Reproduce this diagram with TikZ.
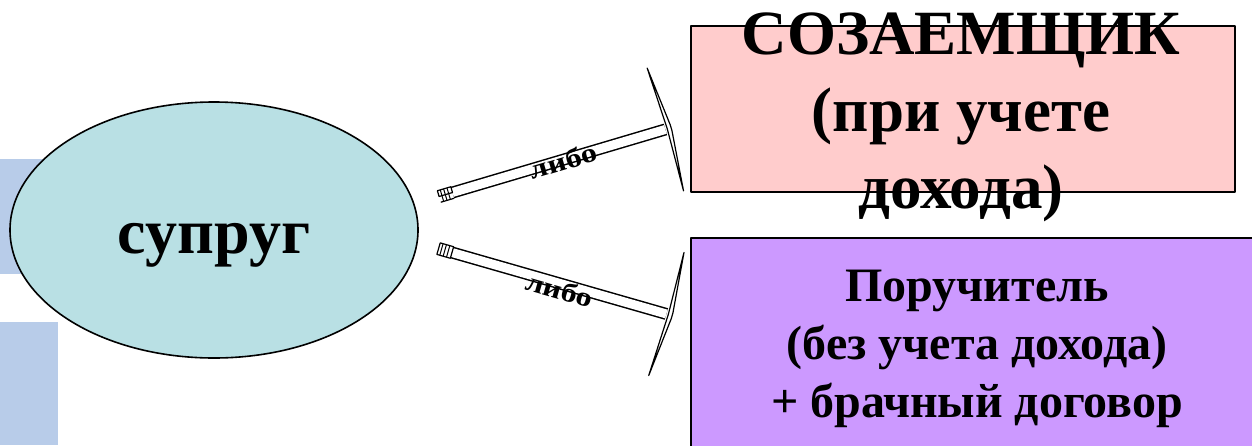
\documentclass[tikz,border=0pt]{standalone}
\usepackage{fontspec}
\setmainfont{Liberation Serif}
\usetikzlibrary{shapes.geometric}

\begin{document}
\begin{tikzpicture}[x=1pt,y=-1pt,line join=round,
  partner/.style={ellipse,draw,line width=1.6pt,fill=spouse,
    minimum width=408pt,minimum height=256pt,inner sep=0pt},
  rolebox/.style={rectangle,draw,line width=1.6pt,inner sep=0pt},
  shaft/.style={draw,line width=1.5pt,double=white,double distance=9pt},
  word/.style={font=\bfseries\fontsize{27}{30}\selectfont,xscale=1.2,inner sep=0pt}]
\definecolor{spouse}{RGB}{185,224,228}
\definecolor{coborrower}{RGB}{255,204,204}
\definecolor{guarantor}{RGB}{204,153,255}
\definecolor{strip}{RGB}{184,204,233}

\useasboundingbox (0,0) rectangle (1252,445);
\clip (0,0) rectangle (1252,445);

% light strips at the left edge
\fill[strip] (0,159) rectangle (58,274);
\fill[strip] (0,322) rectangle (58,445);

% the spouse
\node[partner] (spouse) at (214,230) {};
\node[anchor=base,font=\bfseries\fontsize{64}{77}\selectfont] (spouselabel)
  at (214,253) {супруг};

% the two roles
\node[rolebox,fill=coborrower,minimum width=544pt,minimum height=166pt]
  (coborrower) at (963,109) {};
\node[align=center,font=\bfseries\fontsize{63}{77}\selectfont] (coborrowertext)
  at (961,117) {СОЗАЕМЩИК\\(при учете\\дохода)};
\node[rolebox,fill=guarantor,minimum width=600pt,minimum height=240pt,anchor=north west]
  (guarantor) at (690,237) {};
\node[align=center,font=\bfseries\fontsize{48}{58}\selectfont] (guarantortext)
  at (977,349) {Поручитель\\(без учета дохода)\\+ брачный договор};

% upper arrow
\begin{scope}[shift={(452.5,192.5)},rotate=16.5]
  \coordinate (tail1) at (0,0);
  \coordinate (tip1) at (222,0);
  \draw[shaft] (tail1) -- (tip1);
  \draw[line width=1.2pt] (-14,-6) rectangle (tail1);
  \draw[line width=1.2pt] (-14,6) -- (0,6);
  \foreach \s in {-4,-7.5,-11} \draw[line width=1pt] (\s,-6) -- (\s,6);
  \filldraw[fill=white,line width=1.2pt] (222,-64) -- (228,-3) -- (228,3)
    -- (222,64) -- (224,0) -- cycle;
  \node[word,transform shape] (or1) at (115,1) {либо};
\end{scope}

% lower arrow
\begin{scope}[shift={(452,252.5)},rotate=-16]
  \coordinate (tail2) at (0,0);
  \coordinate (tip2) at (223,0);
  \draw[shaft] (tail2) -- (tip2);
  \draw[line width=1.2pt] (-14,-6) rectangle (0,6);
  \foreach \s in {-4,-7.5,-11} \draw[line width=1pt] (\s,-6) -- (\s,6);
  \filldraw[fill=white,line width=1.2pt] (223,-64) -- (229,-3) -- (229,3)
    -- (223,64) -- (225,0) -- cycle;
  \node[word,transform shape] (or2) at (114,6) {либо};
\end{scope}
\end{tikzpicture}
\end{document}
